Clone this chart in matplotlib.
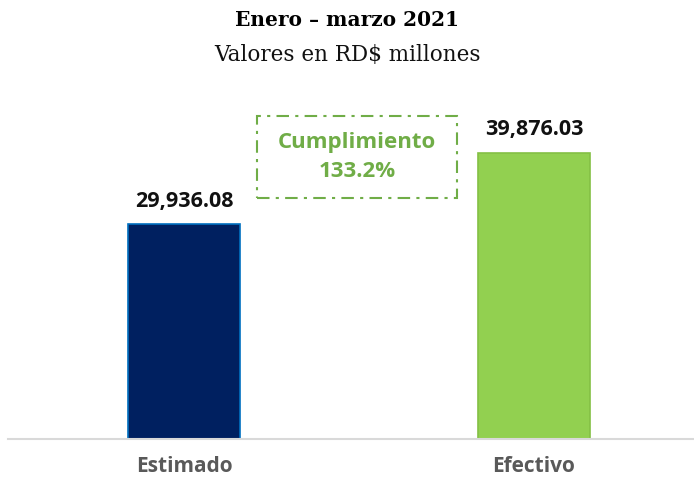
import matplotlib.pyplot as plt

categories = ['Estimado', 'Efectivo']
values = [29936.08, 39876.03]
value_labels = ['29,936.08', '39,876.03']
cumplimiento = 133.2

W, H = 694, 479
fig = plt.figure(figsize=(W / 100, H / 100), dpi=100)

# axes placement in pixels: baseline y=439, top y=80
left, right = 8, 694
bottom, top = 439, 80
ax = fig.add_axes([left / W, 1 - bottom / H, (right - left) / W, (bottom - top) / H])

ax.bar([0, 1], values, width=0.32,
       color=['#002060', '#92D050'],
       edgecolor=['#0070C0', '#84C044'], linewidth=1.2, zorder=2)
ax.set_xlim(-0.503, 1.457)
ax.set_ylim(0, 50000)

for i, (v, lab) in enumerate(zip(values, value_labels)):
    ax.text(i, v + 1700, lab, ha='center', va='bottom',
            fontsize=15.5, fontweight='bold', family='Open Sans', color='#111111')

ax.set_xticks([0, 1])
ax.set_xticklabels(categories, fontsize=15, fontweight='bold',
                   family='Open Sans', color='#595959')
ax.tick_params(axis='x', length=0, pad=12)
ax.set_yticks([])
for s in ['top', 'right', 'left']:
    ax.spines[s].set_visible(False)
ax.spines['bottom'].set_color('#d9d9d9')
ax.spines['bottom'].set_linewidth(1.5)

# dashed box with cumplimiento
bx0, by0, bx1, by1 = 257, 116, 457, 198
box = plt.Rectangle((bx0 / W, 1 - by1 / H), (bx1 - bx0) / W, (by1 - by0) / H,
                    transform=fig.transFigure, fill=False,
                    edgecolor='#70AD47', linewidth=1.5,
                    linestyle=(0, (6, 3, 1.5, 3)))
fig.add_artist(box)
fig.text((bx0 + bx1) / 2 / W, 1 - (by0 + by1) / 2 / H,
         'Cumplimiento\n%.1f%%' % cumplimiento,
         ha='center', va='center', fontsize=16, fontweight='bold',
         family='Open Sans', color='#70AD47', linespacing=1.55)

fig.text(0.5, 1 - 20 / H, 'Enero – marzo 2021', ha='center', va='center',
         fontsize=14.5, fontweight='bold', family='DejaVu Serif', color='black')
fig.text(0.5, 1 - 55 / H, 'Valores en RD$ millones', ha='center', va='center',
         fontsize=15.5, family='DejaVu Serif', color='#111111')

fig.savefig('out.png', dpi=100, facecolor='white')
